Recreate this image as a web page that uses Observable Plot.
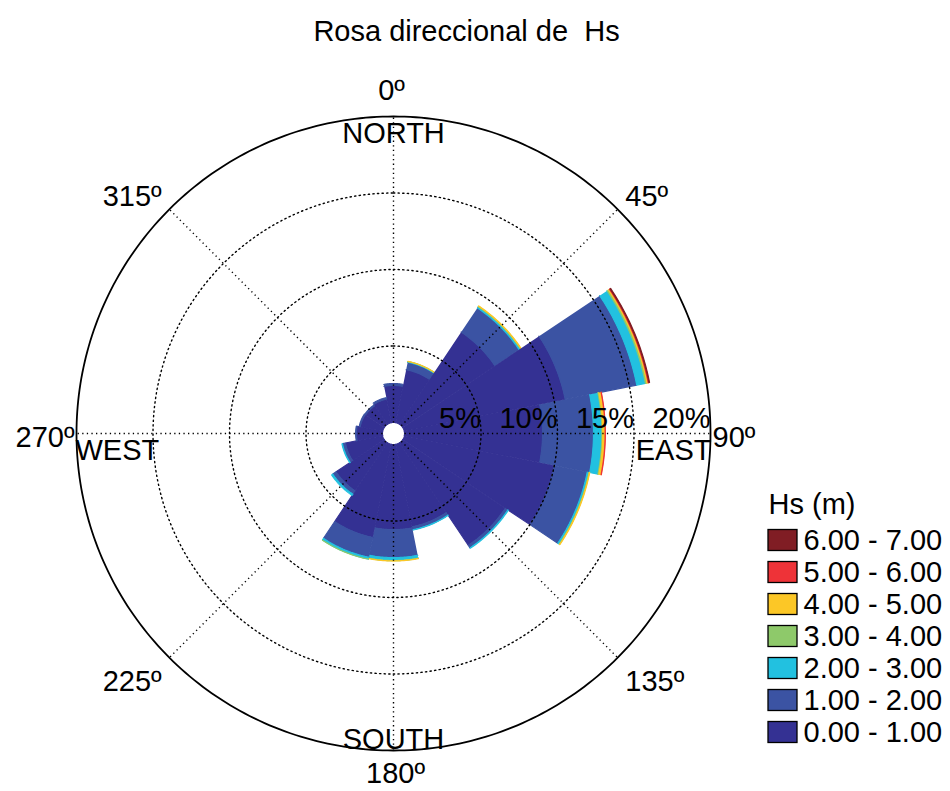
<!DOCTYPE html>
<html>
<head>
<meta charset="utf-8">
<script src="https://cdn.jsdelivr.net/npm/d3@7"></script>
<script src="https://cdn.jsdelivr.net/npm/@observablehq/plot@0.6"></script>
<style>
html, body { margin: 0; padding: 0; background: #fff; }
svg text { white-space: pre; }
</style>
</head>
<body>
<div id="chart"></div>
<script>
// ---------------- data ----------------
const title = "Rosa direccional de  Hs";
const directions = ["N","NNE","NE","ENE","E","ESE","SE","SSE","S","SSW","SW","WSW","W","WNW","NW","NNW"];
const classLabels = ["0.00 - 1.00","1.00 - 2.00","2.00 - 3.00","3.00 - 4.00","4.00 - 5.00","5.00 - 6.00","6.00 - 7.00"];
const classColors = ["#343193","#3b53a3","#22c1e0","#8ec96a","#fcc726","#ee3338","#801d24"];
// frequency (%) per direction, per Hs class
const hs0to1 = [2.42, 3.53, 7.25, 10.72, 9.02, 10.00, 8.07, 5.49, 5.56, 6.20, 3.79, 2.48, 1.70, 1.50, 1.47, 1.57];
const hs1to2 = [0.13, 0.50, 1.90, 4.77, 3.33, 2.19, 0.20, 0.20, 1.83, 1.32, 0.26, 0.20, 0.06, 0.07, 0.07, 0.10];
const hs2to3 = [0.00, 0.04, 0.10, 0.58, 0.55, 0.11, 0.04, 0.03, 0.19, 0.13, 0.10, 0.04, 0.00, 0.00, 0.00, 0.00];
const hs3to4 = [0.00, 0.01, 0.03, 0.10, 0.06, 0.03, 0.00, 0.00, 0.02, 0.01, 0.00, 0.00, 0.00, 0.00, 0.00, 0.00];
const hs4to5 = [0.00, 0.01, 0.03, 0.08, 0.15, 0.03, 0.00, 0.00, 0.02, 0.00, 0.00, 0.00, 0.00, 0.00, 0.00, 0.00];
const hs5to6 = [0.00, 0.00, 0.00, 0.05, 0.02, 0.00, 0.00, 0.00, 0.00, 0.00, 0.00, 0.00, 0.00, 0.00, 0.00, 0.00];
const hs6to7 = [0.00, 0.00, 0.00, 0.05, 0.00, 0.00, 0.00, 0.00, 0.00, 0.00, 0.00, 0.00, 0.00, 0.00, 0.00, 0.00];
const ringTicks = [5, 10, 15, 20];
const ringLabels = ["5%", "10%", "15%", "20%"];
const angleTicks = [0, 45, 90, 135, 180, 225, 270, 315];
const angleLabels = ["0º", "45º", "90º", "135º", "180º", "225º", "270º", "315º"];
const compassNames = ["NORTH", "EAST", "SOUTH", "WEST"];
const compassAngles = [0, 90, 180, 270];
const legendTitle = "Hs (m)";

// ---------------- layout ----------------
const W = 950, H = 791;
const cx = 393, cy = 433;          // pixel centre of the rose
const k = 15.3;                    // pixels per percent
const hole = 11 / k;               // inner hole (in % units)
const maxPct = 20;
const font = "Liberation Sans, Arial, Helvetica, sans-serif";
const fs = 29;

const rad = p => hole + p;
const sinD = a => Math.sin(a * Math.PI / 180);
const cosD = a => Math.cos(a * Math.PI / 180);
const ux = px => (px - cx) / k;
const uy = py => (cy - py) / k;

// ---------------- sectors ----------------
const classSeries = [hs0to1, hs1to2, hs2to3, hs3to4, hs4to5, hs5to6, hs6to7];
const dirAngles = directions.map((d, i) => i * 360 / directions.length);
const half = 180 / directions.length;
const sectorPts = [];
directions.forEach((d, i) => {
  const a = dirAngles[i];
  let cum = 0;
  classSeries.forEach((s, j) => {
    const v = s[i];
    if (!(v > 0)) return;
    const r0 = rad(cum), r1 = rad(cum + v);
    cum += v;
    const key = d + "-" + j;
    const n = 24;
    for (let t = 0; t <= n; t++) {
      const ang = a - half + (2 * half * t) / n;
      sectorPts.push({key, cls: classLabels[j], x: r1 * sinD(ang), y: r1 * cosD(ang)});
    }
    for (let t = n; t >= 0; t--) {
      const ang = a - half + (2 * half * t) / n;
      sectorPts.push({key, cls: classLabels[j], x: r0 * sinD(ang), y: r0 * cosD(ang)});
    }
  });
});

// ---------------- grid ----------------
const circlePts = (p, key) => d3.range(0, 361, 1).map(a => ({key, x: rad(p) * sinD(a), y: rad(p) * cosD(a)}));
const dottedRings = ringTicks.filter(p => p < maxPct).flatMap(p => circlePts(p, "r" + p));
const outerRing = circlePts(maxPct, "outer");

// ---------------- marks ----------------
const dotted = {stroke: "black", strokeWidth: 1.4, strokeDasharray: "1.3,3.3"};

const angleLabelMarks = angleTicks.map((a, i) => {
  const sa = sinD(a), ca = cosD(a);
  const horiz = Math.abs(ca) < 0.01, vert = Math.abs(sa) < 0.01;
  const rPx = vert ? (ca > 0 ? 336 : 327) : horiz ? 319 : 325;
  return Plot.text([angleLabels[i]], {
    x: () => (rPx / k) * sa,
    y: () => (rPx / k) * ca,
    text: d => d,
    textAnchor: sa > 0.01 ? "start" : sa < -0.01 ? "end" : "middle",
    lineAnchor: ca > 0.01 ? "bottom" : ca < -0.01 ? "top" : "middle",
    dx: horiz ? 0 : (sa > 0 ? 2 : -2),
    dy: horiz ? 4 : (!vert && ca < 0 ? 7 : 2),
    fontSize: fs, fontFamily: font, fill: "black"
  });
});

const compassMarks = compassNames.map((name, i) => {
  const a = compassAngles[i];
  const sa = sinD(a), ca = cosD(a);
  const vert = Math.abs(sa) < 0.01;
  const rPx = vert ? (ca > 0 ? 311 : 315) : 318;
  return Plot.text([name], {
    x: () => (rPx / k) * sa,
    y: () => (rPx / k) * ca,
    text: d => d,
    textAnchor: sa > 0.01 ? "end" : sa < -0.01 ? "start" : "middle",
    lineAnchor: vert ? (ca > 0 ? "top" : "bottom") : "top",
    dy: vert ? 0 : 6,
    fontSize: fs, fontFamily: font, fill: "black"
  });
});

// legend
const legendRows = classLabels.map((c, j) => ({cls: c, row: classLabels.length - 1 - j}));
const legTop = 540, legStep = 32, swX0 = 768, swX1 = 797, swH = 21, legTextX = 803;

const chart = Plot.plot({
  width: W,
  height: H,
  margin: 0,
  x: {domain: [ux(0), ux(W)], axis: null},
  y: {domain: [uy(H), uy(0)], axis: null},
  color: {domain: classLabels, range: classColors},
  style: {fontFamily: font, background: "white", overflow: "visible"},
  marks: [
    Plot.line(sectorPts, {x: "x", y: "y", z: "key", fill: "cls", stroke: "cls", strokeWidth: 1.1, strokeLinejoin: "miter", curve: "linear"}),
    Plot.line(dottedRings, {x: "x", y: "y", z: "key", ...dotted}),
    Plot.link(angleTicks, {
      x1: a => rad(0) * sinD(a), y1: a => rad(0) * cosD(a),
      x2: a => rad(maxPct) * sinD(a), y2: a => rad(maxPct) * cosD(a),
      ...dotted
    }),
    Plot.line(outerRing, {x: "x", y: "y", z: "key", stroke: "black", strokeWidth: 1.8}),
    Plot.text(ringTicks, {
      x: p => rad(p), y: () => 0, text: (p, i) => ringLabels[i],
      textAnchor: "end", lineAnchor: "bottom", dy: -6,
      fontSize: fs, fontFamily: font, fill: "black"
    }),
    ...angleLabelMarks,
    ...compassMarks,
    Plot.text([title], {
      x: () => ux(466), y: () => uy(40), text: d => d,
      textAnchor: "middle", lineAnchor: "bottom",
      fontSize: fs, fontFamily: font, fill: "black"
    }),
    Plot.text([legendTitle], {
      x: () => ux(swX0), y: () => uy(513), text: d => d,
      textAnchor: "start", lineAnchor: "bottom",
      fontSize: fs, fontFamily: font, fill: "black"
    }),
    Plot.rect(legendRows, {
      x1: () => ux(swX0), x2: () => ux(swX1),
      y1: d => uy(legTop + d.row * legStep - swH / 2),
      y2: d => uy(legTop + d.row * legStep + swH / 2),
      fill: "cls", stroke: "black", strokeWidth: 1.3
    }),
    Plot.text(legendRows, {
      x: () => ux(legTextX), y: d => uy(legTop + d.row * legStep),
      text: "cls", textAnchor: "start", lineAnchor: "middle",
      fontSize: fs, fontFamily: font, fill: "black"
    })
  ]
});
document.getElementById("chart").appendChild(chart);
</script>
</body>
</html>
